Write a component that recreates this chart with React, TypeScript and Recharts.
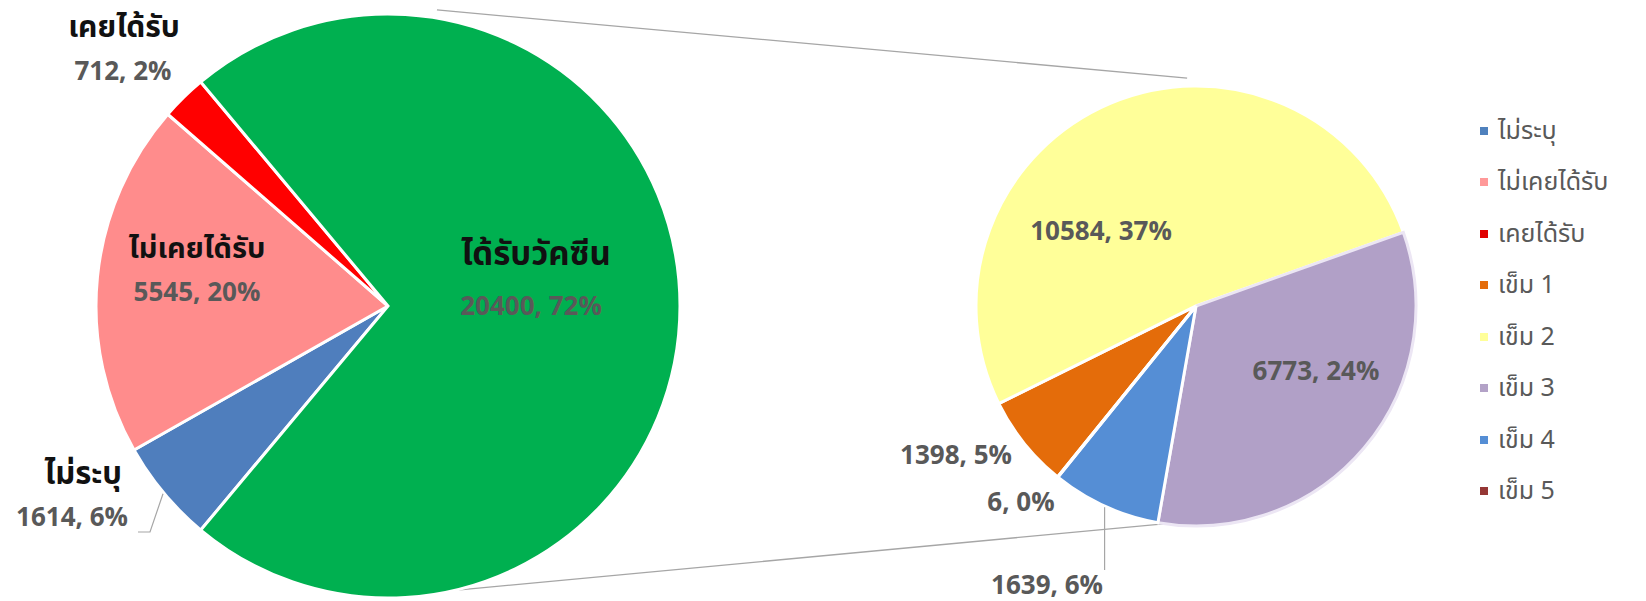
import { PieChart, Pie, Cell, Legend } from "recharts";

const primaryNames = ["ไม่ระบุ", "ไม่เคยได้รับ", "เคยได้รับ", "ได้รับวัคซีน"];
const primaryValues = [1614, 5545, 712, 20400];
const primaryPercents = [6, 20, 2, 72];

const doseNames = ["เข็ม 1", "เข็ม 2", "เข็ม 3", "เข็ม 4", "เข็ม 5"];
const doseValues = [1398, 10584, 6773, 1639, 6];
const dosePercents = [5, 37, 24, 6, 0];

const legendNames = [...primaryNames.slice(0, 3), ...doseNames];

const primaryColors = ["#4F7EBD", "#FF8C8C", "#FF0000", "#00B050"];
const doseColors = ["#E46C0A", "#FFFF99", "#B1A0C7", "#558ED5", "#953735"];
const legendColors = ["#4F81BD", "#FF9999", "#E00000", "#E46C0A", "#FFFF99", "#B3A2C7", "#558ED5", "#953735"];

const THAI = "Tahoma, 'Leelawadee UI', 'Noto Sans Thai', 'Noto Sans', sans-serif";
const NUM = "'Open Sans', 'Noto Sans', sans-serif";

const W = 1646;
const H = 601;
const LEFT = { cx: 383, cy: 301, r: 292 };
const RIGHT = { cx: 1191, cy: 301, r: 220 };

const primaryData = primaryNames.map((name, i) => ({ name, value: primaryValues[i], pct: primaryPercents[i] }));
const doseData = doseNames.map((name, i) => ({ name, value: doseValues[i], pct: dosePercents[i] }));

// the split-out group sits centred on 3 o'clock, slices run clockwise
const primaryTotal = primaryValues.reduce((a, b) => a + b, 0);
const othersSpan = ((primaryTotal - primaryValues[3]) / primaryTotal) * 360;
const primaryStart = 180 + othersSpan / 2;
const doseStart = 231;

type Pos = {
  nx?: number;
  ny?: number;
  ns?: number;
  vx: number;
  vy: number;
  anchor: "start" | "middle" | "end";
  leader?: "elbow" | "down";
};

// offsets from the pie centre
const primaryLabelPos: Record<string, Pos> = {
  "ไม่ระบุ": { nx: -266, ny: 168, ns: 31, vx: -260, vy: 210, anchor: "end", leader: "elbow" },
  "ไม่เคยได้รับ": { nx: -191, ny: -57, ns: 29, vx: -191, vy: -15, anchor: "middle" },
  "เคยได้รับ": { nx: -264, ny: -278, ns: 30, vx: -265, vy: -236, anchor: "middle" },
  "ได้รับวัคซีน": { nx: 148, ny: -51, ns: 33, vx: 143, vy: -1, anchor: "middle" },
};

const doseLabelPos: Record<string, Pos> = {
  "เข็ม 1": { vx: -240, vy: 148, anchor: "middle" },
  "เข็ม 2": { vx: -95, vy: -76, anchor: "middle" },
  "เข็ม 3": { vx: 120, vy: 64, anchor: "middle" },
  "เข็ม 4": { vx: -93, vy: 278, anchor: "end", leader: "down" },
  "เข็ม 5": { vx: -175, vy: 195, anchor: "middle" },
};

const RAD = Math.PI / 180;

function makeLabel(posMap: Record<string, Pos>) {
  return (props: any) => {
    const { cx, cy, midAngle, outerRadius, name, payload } = props;
    const p = posMap[name];
    if (!p) return null;
    const ex = cx + (outerRadius + 1) * Math.cos(-midAngle * RAD);
    const ey = cy + (outerRadius + 1) * Math.sin(-midAngle * RAD);
    let leader = null;
    if (p.leader === "elbow") {
      leader = (
        <polyline
          points={`${ex},${ey} ${cx + p.vx + 22},${cy + p.vy + 16} ${cx + p.vx + 10},${cy + p.vy + 16}`}
          fill="none"
          stroke="#A6A6A6"
          strokeWidth={1.2}
        />
      );
    } else if (p.leader === "down") {
      leader = <line x1={ex} y1={ey} x2={ex} y2={cy + p.vy - 14} stroke="#A6A6A6" strokeWidth={1.2} />;
    }
    return (
      <g>
        {leader}
        {p.nx !== undefined && (
          <text
            x={cx + p.nx}
            y={cy + (p.ny ?? 0)}
            textAnchor={p.anchor}
            dominantBaseline="central"
            fontFamily={THAI}
            fontWeight={700}
            fontSize={p.ns ?? 30}
            fill="#111"
          >
            {name}
          </text>
        )}
        <text
          x={cx + p.vx}
          y={cy + p.vy}
          textAnchor={p.anchor}
          dominantBaseline="central"
          fontFamily={NUM}
          fontWeight={700}
          fontSize={26}
          fill="#595959"
        >
          {`${payload.value}, ${payload.pct}%`}
        </text>
      </g>
    );
  };
}

const renderLegend = () => (
  <div style={{ fontFamily: THAI, fontSize: 25, color: "#595959" }}>
    {legendNames.map((n, i) => (
      <div key={n} style={{ height: 51.5, display: "flex", alignItems: "center" }}>
        <span
          style={{
            width: 8,
            height: 8,
            background: legendColors[i],
            marginRight: 10,
            display: "inline-block",
            flex: "none",
          }}
        />
        <span style={{ whiteSpace: "nowrap" }}>{n}</span>
      </div>
    ))}
  </div>
);

function pt(c: { cx: number; cy: number }, r: number, deg: number) {
  return { x: c.cx + r * Math.cos(deg * RAD), y: c.cy - r * Math.sin(deg * RAD) };
}

export default function App() {
  const t1 = pt(LEFT, LEFT.r + 4, 79.5);
  const t2 = pt(RIGHT, RIGHT.r + 3, 91);
  const b1 = pt(LEFT, LEFT.r + 5, -77.6);
  const b2 = pt(RIGHT, RIGHT.r + 2, -93.6);
  return (
    <div style={{ position: "absolute", left: 0, top: 0, width: W, height: H, background: "#fff" }}>
      <svg width={W} height={H} style={{ position: "absolute", left: 0, top: 0 }}>
        <line x1={t1.x} y1={t1.y} x2={t2.x} y2={t2.y} stroke="#A6A6A6" strokeWidth={1.3} />
        <line x1={b1.x} y1={b1.y} x2={b2.x} y2={b2.y} stroke="#A6A6A6" strokeWidth={1.3} />
      </svg>
      <div style={{ position: "absolute", left: 0, top: 0 }}>
        <PieChart width={W} height={H}>
          <Pie
            data={primaryData}
            dataKey="value"
            nameKey="name"
            cx={LEFT.cx}
            cy={LEFT.cy}
            outerRadius={LEFT.r}
            startAngle={primaryStart}
            endAngle={primaryStart - 360}
            stroke="#fff"
            strokeWidth={3}
            label={makeLabel(primaryLabelPos)}
            labelLine={false}
            isAnimationActive={false}
          >
            {primaryData.map((d, i) => (
              <Cell key={d.name} fill={primaryColors[i]} />
            ))}
          </Pie>
          <Pie
            data={doseData}
            dataKey="value"
            nameKey="name"
            cx={RIGHT.cx}
            cy={RIGHT.cy}
            outerRadius={RIGHT.r}
            startAngle={doseStart}
            endAngle={doseStart - 360}
            stroke="#fff"
            strokeWidth={3}
            label={makeLabel(doseLabelPos)}
            labelLine={false}
            isAnimationActive={false}
          >
            {doseData.map((d, i) => (
              <Cell key={d.name} fill={doseColors[i]} stroke={i === 2 ? "#ECE6F4" : "#fff"} />
            ))}
          </Pie>
          <Legend content={renderLegend} wrapperStyle={{ left: 1480, top: 105, width: 166 }} />
        </PieChart>
      </div>
    </div>
  );
}
